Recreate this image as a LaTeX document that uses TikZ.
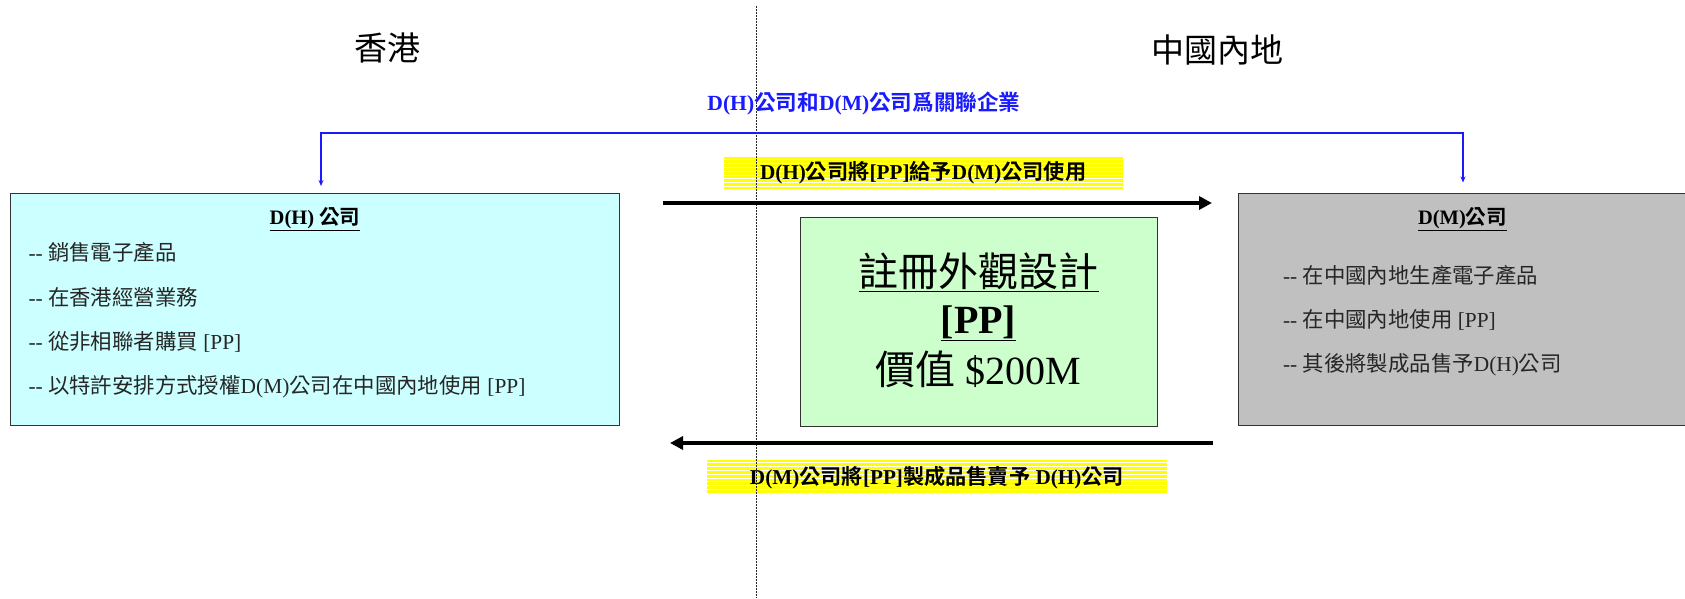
\documentclass[tikz,border=0pt]{standalone}
\usepackage{fontspec}
\setmainfont{Liberation Serif}
\newfontfamily\cjk{Noto Sans CJK TC}[BoldFont={Noto Sans CJK TC Bold}]
\newcommand\zh[1]{{\cjk #1}}
\usetikzlibrary{arrows.meta}
\definecolor{hkfill}{HTML}{CCFFFF}
\definecolor{ppfill}{HTML}{CCFFCC}
\definecolor{mlfill}{HTML}{C0C0C0}
\definecolor{relblue}{HTML}{1A1AFF}
\definecolor{hiyellow}{HTML}{FFFF00}
\begin{document}
\begin{tikzpicture}[x=1pt,y=-1pt,
  every node/.style={inner sep=0pt, outer sep=0pt},
  headtxt/.style={font=\fontsize{33}{36}\selectfont},
  relabel/.style={font=\fontsize{21.6}{26}\selectfont\bfseries, text=relblue},
  boxtitle/.style={font=\fontsize{20.5}{24}\selectfont\bfseries},
  itemtxt/.style={font=\fontsize{21.4}{25}\selectfont, text=black!85, anchor=west},
  bigtxt/.style={font=\fontsize{40}{44}\selectfont},
  flowlbl/.style={font=\fontsize{21.2}{25}\selectfont\bfseries},
  company/.style={draw=black!80, line width=1pt, anchor=north west},
  hilite/.style={fill=hiyellow, path picture={
      \foreach \k in {1,...,9}
        \draw[white, line width=0.9pt]
          ([yshift=-\k*3.8pt+1pt]path picture bounding box.north west) --
          ([yshift=-\k*3.8pt+1pt]path picture bounding box.north east);}},
  thickarrow/.style={line width=4.5pt, -{Triangle[length=13pt,width=13pt]}},
  relline/.style={draw=relblue, line width=1.4pt,
      {Stealth[length=6pt,width=5pt]}-{Stealth[length=6pt,width=5pt]}},
  divider/.style={draw=black!85, line width=0.9pt, dash pattern=on 2pt off 1pt},
]
\useasboundingbox (0,0) rectangle (1685,598);

% boxes
\node[company, fill=hkfill, minimum width=608.3pt, minimum height=232pt] (hbox) at (10.7,193.5) {};
\node[company, fill=mlfill, minimum width=460pt, minimum height=232pt] (mbox) at (1238,193.5) {};
\node[company, fill=ppfill, minimum width=357pt, minimum height=209pt] (pbox) at (800.7,217) {};

% highlighted flow labels
\node[flowlbl, hilite, minimum width=399pt, minimum height=32pt] (give) at (923.1,173) {D(H)\zh{公司將}[PP]\zh{給予}D(M)\zh{公司使用}};
\node[flowlbl, hilite, minimum width=460pt, minimum height=34.5pt] (sell) at (936.9,477.2) {D(M)\zh{公司將}[PP]\zh{製成品售賣予} D(H)\zh{公司}};

% divider
\coordinate (dtop) at (756.5,6);
\coordinate (dbot) at (756.5,598);
\draw[divider] (dtop) -- (dbot);

% headings
\node[headtxt] (hk) at (387,48) {\zh{香港}};
\node[headtxt] (ml) at (1217,50) {\zh{中國內地}};

% related-company connector
\node[relabel] (rel) at (864,104) {D(H)\zh{公司和}D(M)\zh{公司爲關聯企業}};
\coordinate (rl) at (321,186);
\coordinate (rlc) at (321,133);
\coordinate (rrc) at (1463,133);
\coordinate (rr) at (1463,182.5);
\draw[relline] (rl) -- (rlc) -- (rrc) -- (rr);

% flow arrows
\coordinate (a1s) at (663,203);
\coordinate (a1e) at (1212,203);
\draw[thickarrow] (a1s) -- (a1e);
\coordinate (a2s) at (1213,443);
\coordinate (a2e) at (670,443);
\draw[thickarrow] (a2s) -- (a2e);

% D(H) box text
\node[boxtitle] (htitle) at (315,219) {\underline{D(H) \zh{公司}}};
\node[itemtxt] (h1) at (28.5,252) {-{}- \zh{銷售電子產品}};
\node[itemtxt] (h2) at (28.5,297) {-{}- \zh{在香港經營業務}};
\node[itemtxt] (h3) at (28.5,342) {-{}- \zh{從非相聯者購買} [PP]};
\node[itemtxt] (h4) at (28.5,387) {-{}- \zh{以特許安排方式授權}D(M)\zh{公司在中國內地使用} [PP]};

% D(M) box text
\node[boxtitle] (mtitle) at (1462.5,219) {\underline{D(M)\zh{公司}}};
\node[itemtxt] (m1) at (1283,275) {-{}- \zh{在中國內地生產電子產品}};
\node[itemtxt] (m2) at (1283,320) {-{}- \zh{在中國內地使用} [PP]};
\node[itemtxt] (m3) at (1283,365) {-{}- \zh{其後將製成品售予}D(H)\zh{公司}};

% PP box text
\node[bigtxt] (p1) at (978.5,272) {\underline{\zh{註冊外觀設計}}};
\node[bigtxt, font=\fontsize{40}{44}\selectfont\bfseries] (p2) at (978.5,323) {\underline{[PP]}};
\node[bigtxt] (p3) at (978.5,369) {\zh{價值} \$200M};
\end{tikzpicture}
\end{document}
